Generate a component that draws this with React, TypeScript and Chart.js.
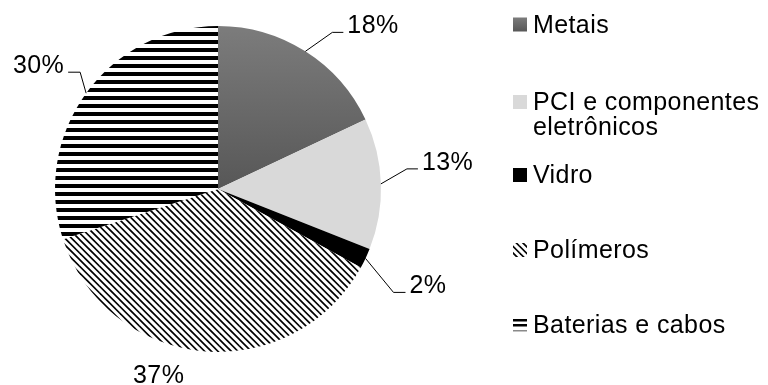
import { useEffect, useRef } from "react";
import { Chart, registerables } from "chart.js";

Chart.register(...registerables);

// Composition of the material, in percent, clockwise from 12 o'clock
const categories = ["Metais", "PCI e componentes eletrônicos", "Vidro", "Polímeros", "Baterias e cabos"];
const legendLines = [["Metais"], ["PCI e componentes", "eletrônicos"], ["Vidro"], ["Polímeros"], ["Baterias e cabos"]];
const shares = [18, 13, 2, 37, 30];
const valueLabels = shares.map((v) => `${v}%`);

const FONT = "25px 'Liberation Sans', Arial, sans-serif";
const LETTER_SPACING = "0.4px";

// Leader-line geometry for each value label, relative to the slice's outer mid point
type LabelPlacement =
  | { kind: "leader"; elbow: [number, number]; run: number }
  | { kind: "free"; offset: [number, number] };
const labelPlacement: LabelPlacement[] = [
  { kind: "leader", elbow: [27, -19], run: 11 },
  { kind: "leader", elbow: [26, -15], run: 11 },
  { kind: "leader", elbow: [28, 34], run: 12 },
  { kind: "free", offset: [-44, 32] },
  { kind: "leader", elbow: [-6, -21], run: -12 },
];

// Legend layout: marker column, text column and the baseline of each entry
const legendX = 513;
const legendTextX = 533;
const legendBaselines = [32.5, 110, 183, 258, 333];
const legendLineHeight = 24.5;

function diagonalPattern(): CanvasPattern {
  const c = document.createElement("canvas");
  const s = 20;
  c.width = s;
  c.height = s;
  const g = c.getContext("2d")!;
  g.fillStyle = "#ffffff";
  g.fillRect(0, 0, s, s);
  g.strokeStyle = "#000000";
  g.lineWidth = 1.7;
  for (let k = -6; k <= 6; k++) {
    const off = (k * s) / 3;
    g.beginPath();
    g.moveTo(off - s, -s);
    g.lineTo(off + 2 * s, 2 * s);
    g.stroke();
  }
  return g.createPattern(c, "repeat")!;
}

function horizontalPattern(): CanvasPattern {
  const c = document.createElement("canvas");
  c.width = 8;
  c.height = 8;
  const g = c.getContext("2d")!;
  g.fillStyle = "#ffffff";
  g.fillRect(0, 0, 8, 8);
  g.fillStyle = "#000000";
  g.fillRect(0, 0, 8, 4);
  return g.createPattern(c, "repeat")!;
}

export default function App() {
  const ref = useRef<HTMLCanvasElement | null>(null);

  useEffect(() => {
    const canvas = ref.current;
    if (!canvas) return;

    const diag = diagonalPattern();
    const horiz = horizontalPattern();
    const flatFills: (string | CanvasPattern)[] = ["#6a6a6a", "#d9d9d9", "#000000", diag, horiz];

    const metalGradient = (ctx: CanvasRenderingContext2D, top: number, bottom: number) => {
      const g = ctx.createLinearGradient(0, top, 0, bottom);
      g.addColorStop(0, "#7c7c7c");
      g.addColorStop(1, "#575757");
      return g;
    };

    const annotations = {
      id: "pieAnnotations",
      afterDraw(chart: Chart) {
        const ctx = chart.ctx;
        const meta = chart.getDatasetMeta(0);
        ctx.save();
        ctx.font = FONT;
        (ctx as any).letterSpacing = LETTER_SPACING;
        ctx.fillStyle = "#000000";
        ctx.strokeStyle = "#000000";
        ctx.lineWidth = 1;
        ctx.textBaseline = "alphabetic";

        // value labels with leader lines
        meta.data.forEach((el: any, i: number) => {
          const { x, y, startAngle, endAngle, outerRadius } = el.getProps(
            ["x", "y", "startAngle", "endAngle", "outerRadius"],
            true
          );
          const mid = (startAngle + endAngle) / 2;
          const ex = x + Math.cos(mid) * outerRadius;
          const ey = y + Math.sin(mid) * outerRadius;
          const p = labelPlacement[i];
          const text = valueLabels[i];
          if (p.kind === "free") {
            ctx.textAlign = "center";
            ctx.fillText(text, ex + p.offset[0], ey + p.offset[1]);
            return;
          }
          const bx = ex + p.elbow[0];
          const by = ey + p.elbow[1];
          const endX = bx + p.run;
          ctx.beginPath();
          ctx.moveTo(ex, ey);
          ctx.lineTo(bx, by);
          ctx.lineTo(endX, by);
          ctx.stroke();
          if (p.run >= 0) {
            ctx.textAlign = "left";
            ctx.fillText(text, endX + 4, by + 1);
          } else {
            ctx.textAlign = "right";
            ctx.fillText(text, endX - 4, by + 1);
          }
        });

        // legend
        ctx.textAlign = "left";
        legendLines.forEach((lines, i) => {
          const base = legendBaselines[i];
          const top = base - 15;
          const size = 14;
          if (i === 0) {
            ctx.fillStyle = metalGradient(ctx, top, top + size);
            ctx.fillRect(legendX, top, size, size);
          } else if (i === 4) {
            ctx.fillStyle = "#000000";
            ctx.fillRect(legendX, top + 1, size, 2.5);
            ctx.fillRect(legendX, top + 6, size, 2.5);
            ctx.fillStyle = "#8a8a8a";
            ctx.fillRect(legendX, top + 12, size, 1.5);
          } else {
            ctx.fillStyle = flatFills[i] as any;
            ctx.fillRect(legendX, top, size, size);
          }
          ctx.fillStyle = "#000000";
          lines.forEach((line, j) => {
            ctx.fillText(line, legendTextX, base + j * legendLineHeight);
          });
        });
        ctx.restore();
      },
    };

    const chart = new Chart(canvas, {
      type: "pie",
      data: {
        labels: categories,
        datasets: [
          {
            data: shares,
            borderWidth: 0,
            backgroundColor: (c: any) => {
              const i = c.dataIndex;
              if (i === 0) {
                const area = c.chart.chartArea;
                if (!area) return flatFills[0];
                return metalGradient(c.chart.ctx, area.top, (area.top + area.bottom) / 2);
              }
              return flatFills[i];
            },
          },
        ],
      },
      options: {
        responsive: false,
        animation: false,
        devicePixelRatio: 1,
        layout: { padding: { left: 55, top: 26, right: 387, bottom: 33 } },
        plugins: {
          legend: { display: false },
          tooltip: { enabled: false },
        },
      },
      plugins: [annotations],
    });

    return () => chart.destroy();
  }, []);

  return (
    <div style={{ position: "absolute", left: 0, top: 0, width: 768, height: 385, background: "#ffffff" }}>
      <canvas ref={ref} width={768} height={385} style={{ display: "block" }} />
    </div>
  );
}
